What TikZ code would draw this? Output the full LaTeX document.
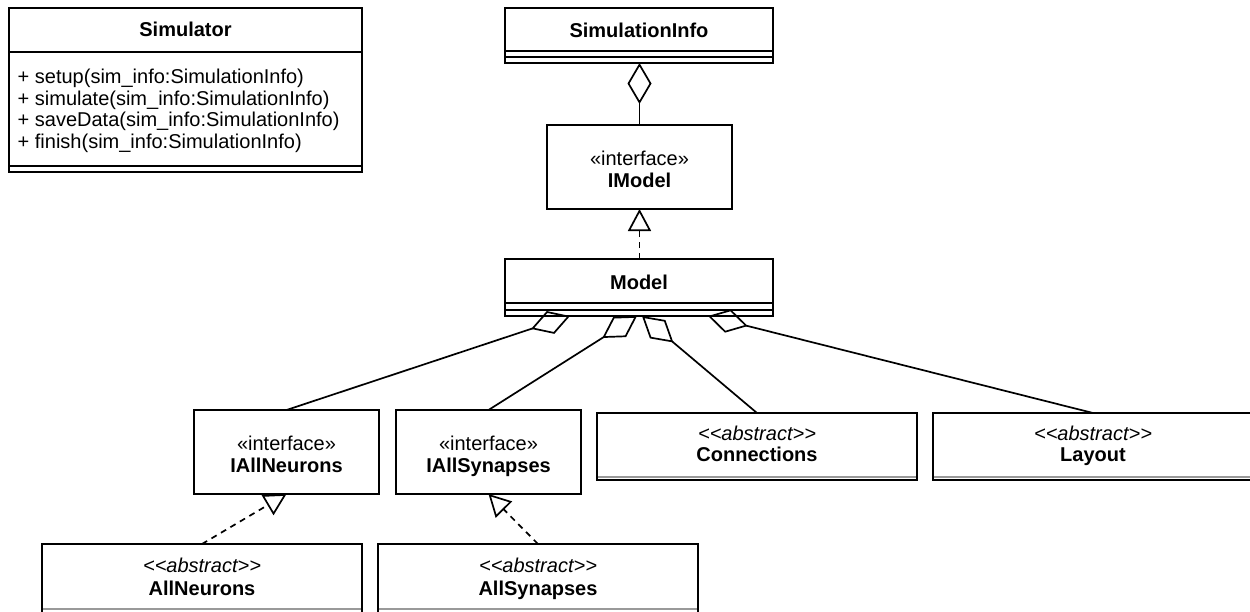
\documentclass[tikz,border=0pt]{standalone}
\usepackage{fontspec}
\setmainfont{Liberation Sans}
\usetikzlibrary{arrows.meta,calc}
% kerns keep the two angle brackets from merging into a guillemet
\newcommand{\abstractmark}{<\kern0pt<abstract>\kern0pt>}
\begin{document}
\begin{tikzpicture}[x=1pt,y=-1pt,
  lw/.style={line width=1.7pt},
  box/.style={draw, lw, rectangle, inner sep=0pt, outer sep=0pt, anchor=north west},
  txt/.style={inner sep=0pt, anchor=base, font=\fontsize{20pt}{24pt}\selectfont},
  ttl/.style={txt, font=\fontsize{20pt}{24pt}\selectfont\bfseries},
  abst/.style={txt, font=\fontsize{20pt}{24pt}\selectfont\itshape},
  meth/.style={txt, anchor=base west},
  ghost/.style={lw, draw=black!40},
  agg/.style={lw, line join=miter, -{Diamond[open, length=41pt, width=24pt]}},
  real/.style={lw, dash pattern=on 6pt off 5pt, -{Triangle[open, length=22pt, width=23pt]}}
]
\useasboundingbox (0,0) rectangle (1250,611);
\clip (0,0) rectangle (1250,611);

% Simulator class with its operations
\node[box, minimum width=353pt, minimum height=163.7pt] (sim) at (9,8) {};
\node[ttl] (simT) at (185.5,36.7) {Simulator};
\draw[lw] (9,51.7) -- (362,51.7);
\node[meth] (m1) at (17.5,83.5) {+ setup(sim\_info:SimulationInfo)};
\node[meth] (m2) at (17.5,105.2) {+ simulate(sim\_info:SimulationInfo)};
\node[meth] (m3) at (17.5,126.9) {+ saveData(sim\_info:SimulationInfo)};
\node[meth] (m4) at (17.5,148.6) {+ finish(sim\_info:SimulationInfo)};
\draw[lw] (9,165.7) -- (362,165.7);

% SimulationInfo
\node[box, minimum width=268pt, minimum height=55pt] (siminfo) at (505,8) {};
\node[ttl] (siminfoT) at (639,37.7) {SimulationInfo};
\draw[lw] (505,51) -- (773,51);
\draw[lw] (505,57) -- (773,57);

% IModel interface
\node[box, minimum width=185pt, minimum height=84pt] (imodel) at (547,125) {};
\node[txt] (imodelS) at (639.5,165) {«interface»};
\node[ttl] (imodelT) at (639.5,187.5) {IModel};

% Model
\node[box, minimum width=268pt, minimum height=57pt] (model) at (505,259) {};
\node[ttl] (modelT) at (639,289) {Model};
\draw[lw] (505,303) -- (773,303);
\draw[lw] (505,310) -- (773,310);

% interfaces below the model
\node[box, minimum width=185pt, minimum height=84pt] (ian) at (194,410) {};
\node[txt] (ianS) at (286.5,450) {«interface»};
\node[ttl] (ianT) at (286.5,472.5) {IAllNeurons};
\node[box, minimum width=185pt, minimum height=84pt] (ias) at (396,410) {};
\node[txt] (iasS) at (488.5,450) {«interface»};
\node[ttl] (iasT) at (488.5,472.5) {IAllSynapses};

% abstract classes
\node[box, minimum width=320pt, minimum height=67.3pt] (conn) at (597,413) {};
\node[abst] (connS) at (757,440) {\abstractmark};
\node[ttl] (connT) at (757,461.7) {Connections};
\draw[ghost] (597.85,477.3) -- (916.15,477.3);
\node[box, minimum width=340pt, minimum height=67.3pt] (lay) at (933,413) {};
\node[abst] (layS) at (1093,440) {\abstractmark};
\node[ttl] (layT) at (1093,461.7) {Layout};
\draw[ghost] (933.85,477.3) -- (1260,477.3);
\coordinate (layTop) at (lay.north -| layT);

\node[box, minimum width=320pt, minimum height=70pt] (aneu) at (42,544) {};
\node[abst] (aneuS) at (202,572.5) {\abstractmark};
\node[ttl] (aneuT) at (202,595.5) {AllNeurons};
\draw[ghost] (42.85,609) -- (361.15,609);
\node[box, minimum width=320pt, minimum height=70pt] (asyn) at (378,544) {};
\node[abst] (asynS) at (538,572.5) {\abstractmark};
\node[ttl] (asynT) at (538,595.5) {AllSynapses};
\draw[ghost] (378.85,609) -- (697.15,609);

% aggregation ends on the model
\coordinate (t1) at ($(model.south west)+(65,0)$);
\coordinate (t2) at ($(model.south west)+(132,0)$);
\coordinate (t3) at ($(model.south west)+(137,0)$);
\coordinate (t4) at ($(model.south west)+(203,0)$);

% relations
\draw[agg] (imodel.north) -- (imodel.north |- siminfo.south);
\draw[real] (imodel.south |- model.north) -- (imodel.south);
\draw[agg] (ian.north) -- (t1);
\draw[agg] (ias.north) -- (t2);
\draw[agg] (conn.north) -- (t3);
\draw[agg] (layTop) -- (t4);
\draw[real] (aneu.north) -- (ian.south);
\draw[real] (asyn.north) -- (ias.south);
\end{tikzpicture}
\end{document}
